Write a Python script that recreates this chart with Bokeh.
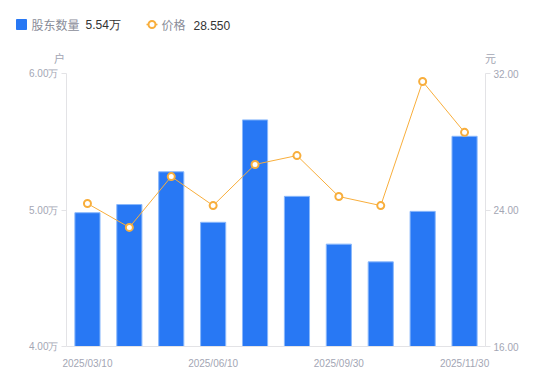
from bokeh.plotting import figure
from bokeh.layouts import column
from bokeh.models import Range1d, LinearAxis, FixedTicker, ColumnDataSource
from bokeh.core.properties import value
from bokeh.embed import file_html
from bokeh.resources import INLINE

dates = ["2025/03/10", "2025/03/31", "2025/04/30", "2025/06/10", "2025/06/30",
         "2025/08/31", "2025/09/30", "2025/10/31", "2025/11/10", "2025/11/30"]
holders_wan = [4.98, 5.04, 5.28, 4.91, 5.66, 5.10, 4.75, 4.62, 4.99, 5.54]
price = [24.38, 22.98, 25.96, 24.26, 26.67, 27.19, 24.79, 24.26, 31.53, 28.55]
left_ticks = [4, 5, 6]
right_ticks = [16, 24, 32]
x_tick_idx = [0, 3, 6, 9]
series_names = ["股东数量", "价格"]
units = ["户", "元"]

W, H = 550, 381
TOP_H = 65
FL, FR, FT, FB = 66, 485, 73, 346  # frame edges in page pixels
BLUE = "#2878F4"
ORANGE = "#F8AE3C"
GRAY = "#a3a6b4"
LEG_GRAY = "#8a8d99"
DARK = "#333333"
AXIS = "#e3e3e6"

# ---------- header strip (legend + axis units) ----------
hdr = figure(width=W, height=TOP_H, output_backend="svg", toolbar_location=None,
             x_range=Range1d(0, W), y_range=Range1d(TOP_H, 0),
             x_axis_location=None, y_axis_location=None,
             min_border=0, min_border_left=0, min_border_right=0,
             min_border_top=0, min_border_bottom=0)
hdr.frame_align = False
hdr.outline_line_color = None
hdr.xgrid.visible = False
hdr.ygrid.visible = False

LY = 24
hdr.scatter(x=[21], y=[LY], marker="square", size=10, fill_color=BLUE, line_color=BLUE)
hdr.line(x=[146, 157], y=[LY, LY], line_color=ORANGE, line_width=1.5)
hdr.scatter(x=[151.5], y=[LY], marker="circle", size=7, fill_color="white",
            line_color=ORANGE, line_width=2)
hdr.text(x=[31, 161], y=[LY, LY], text=series_names, text_color=LEG_GRAY,
         text_font=value("Noto Sans CJK SC"), text_font_size="12px", text_baseline="middle")
hdr.text(x=[85, 193], y=[LY + 0.5, LY + 0.5],
         text=[f"{holders_wan[-1]:.2f}万", f"{price[-1]:.3f}"], text_color=DARK,
         text_font=value("Liberation Sans"), text_font_size="12px", text_baseline="middle")
hdr.text(x=[59, 490], y=[57, 57], text=units, text_color=GRAY,
         text_font=value("Noto Sans CJK SC"), text_font_size="11px",
         text_align="center", text_baseline="middle")

# ---------- main chart ----------
xs = list(range(len(dates)))
src = ColumnDataSource(dict(x=xs, h=holders_wan, p=price))

p = figure(width=W, height=H - TOP_H, output_backend="svg", toolbar_location=None,
           x_range=Range1d(-0.5, len(dates) - 0.5), y_range=Range1d(4, 6),
           min_border_left=FL, min_border_right=W - FR, min_border_top=FT - TOP_H,
           min_border_bottom=H - FB)
p.frame_align = False
p.outline_line_color = None
p.xgrid.visible = False
p.ygrid.visible = False
p.extra_y_ranges = {"price": Range1d(16, 32)}

p.vbar(x="x", top="h", bottom=4, width=0.6, source=src, fill_color=BLUE,
       line_color="#8ab8fb", line_width=1)
p.line(x="x", y="p", source=src, y_range_name="price", line_color=ORANGE, line_width=1)
p.scatter(x="x", y="p", source=src, y_range_name="price", size=7, marker="circle",
          fill_color="white", line_color=ORANGE, line_width=2)

# bottom axis
xa = p.xaxis[0]
xa.ticker = FixedTicker(ticks=x_tick_idx)
xa.major_label_overrides = {i: dates[i] for i in x_tick_idx}
xa.axis_line_color = AXIS
xa.major_tick_line_color = None
xa.minor_tick_line_color = None
xa.major_label_text_color = GRAY
xa.major_label_text_font = "Liberation Sans"
xa.major_label_text_font_size = "10px"
xa.major_label_standoff = 5

# left axis
ya = p.yaxis[0]
ya.ticker = FixedTicker(ticks=left_ticks)
ya.major_label_overrides = {t: f"{t:.2f}万" for t in left_ticks}
ya.axis_line_color = AXIS
ya.major_tick_line_color = AXIS
ya.major_tick_out = 5
ya.major_tick_in = 0
ya.minor_tick_line_color = None
ya.major_label_text_color = GRAY
ya.major_label_text_font = "Liberation Sans"
ya.major_label_text_font_size = "10px"
ya.major_label_standoff = 3

# right axis
ra = LinearAxis(y_range_name="price", ticker=FixedTicker(ticks=right_ticks))
ra.major_label_overrides = {t: f"{t:.2f}" for t in right_ticks}
ra.axis_line_color = AXIS
ra.major_tick_line_color = AXIS
ra.major_tick_out = 5
ra.major_tick_in = 0
ra.minor_tick_line_color = None
ra.major_label_text_color = GRAY
ra.major_label_text_font = "Liberation Sans"
ra.major_label_text_font_size = "10px"
ra.major_label_standoff = 3
p.add_layout(ra, "right")

layout = column(hdr, p, spacing=0)
open("out.html", "w").write(file_html(layout, INLINE))
